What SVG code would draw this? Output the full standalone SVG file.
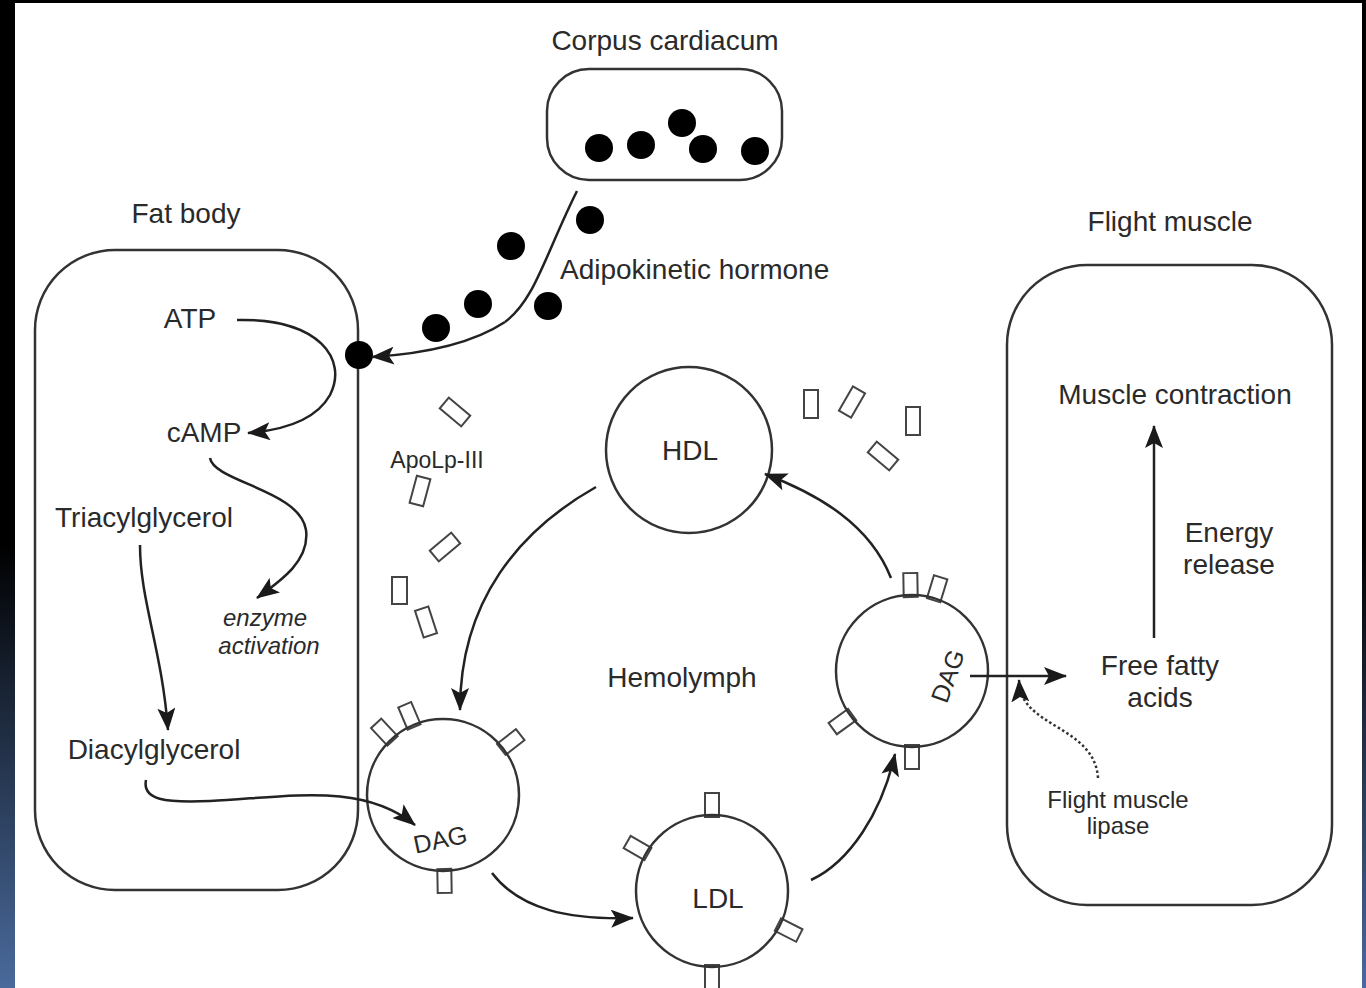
<svg xmlns="http://www.w3.org/2000/svg" width="1366" height="988" viewBox="0 0 1366 988">
<defs>
<linearGradient id="bg" x1="0" y1="0" x2="0" y2="1">
<stop offset="0" stop-color="#000"/>
<stop offset="0.55" stop-color="#000"/>
<stop offset="1" stop-color="#4a6a9c"/>
</linearGradient>
<marker id="ah" markerUnits="userSpaceOnUse" markerWidth="24" markerHeight="18" viewBox="0 0 24 18" refX="22" refY="9" orient="auto">
<path d="M0,0 L23,9 L0,18 L5,9 Z" fill="#1a1a1a"/>
</marker>
<style>
text{font-family:"Liberation Sans",Arial,sans-serif;fill:#2a2a2a;}
.t28{font-size:28px;text-anchor:middle;}
.t24{font-size:24px;text-anchor:middle;}
.it{font-style:italic;}
.ln{fill:none;stroke:#222;stroke-width:2.5;}
.box{fill:none;stroke:#333;stroke-width:2.5;}
.stub{fill:#fff;stroke:#444;stroke-width:2;}
.dot{fill:#000;}
.arr{fill:none;stroke:#222;stroke-width:2.5;marker-end:url(#ah);}
.dash{fill:none;stroke:#333;stroke-width:2.5;stroke-dasharray:2.5 2.5;marker-end:url(#ah);}
</style>
</defs>
<rect x="0" y="0" width="1366" height="988" fill="url(#bg)"/>
<rect x="15" y="3" width="1347" height="985" fill="#fff"/>

<g id="corpus-cardiacum">
<text class="t28" x="665" y="50">Corpus cardiacum</text>
<rect class="box" x="547" y="69" width="235" height="111" rx="42"/>
<circle class="dot" cx="599" cy="148" r="14"/>
<circle class="dot" cx="641" cy="145" r="14"/>
<circle class="dot" cx="682" cy="123" r="14"/>
<circle class="dot" cx="703" cy="149" r="14"/>
<circle class="dot" cx="755" cy="151" r="14"/>
</g>

<g id="akh">
<circle class="dot" cx="590" cy="220" r="14"/>
<circle class="dot" cx="511" cy="246" r="14"/>
<circle class="dot" cx="548" cy="306" r="14"/>
<circle class="dot" cx="478" cy="304" r="14"/>
<circle class="dot" cx="436" cy="328" r="14"/>
<text x="560" y="279" style="font-size:28px">Adipokinetic hormone</text>
</g>

<g id="fat-body">
<text class="t28" x="186" y="223">Fat body</text>
<rect class="box" x="35" y="250" width="323" height="640" rx="80"/>
<circle class="dot" cx="359" cy="355" r="14"/>
<text class="t28" x="190" y="328">ATP</text>
<text class="t28" x="204" y="442">cAMP</text>
<text class="t28" x="144" y="527">Triacylglycerol</text>
<text class="t24 it" x="265" y="626">enzyme</text>
<text class="t24 it" x="269" y="654">activation</text>
<text class="t28" x="154" y="759">Diacylglycerol</text>
</g>

<g id="flight-muscle">
<text class="t28" x="1170" y="231">Flight muscle</text>
<rect class="box" x="1007" y="265" width="325" height="640" rx="80"/>
<text class="t28" x="1175" y="404">Muscle contraction</text>
<text class="t28" x="1229" y="542">Energy</text>
<text class="t28" x="1229" y="574">release</text>
<text class="t28" x="1160" y="675">Free fatty</text>
<text class="t28" x="1160" y="707">acids</text>
<text class="t24" x="1118" y="808">Flight muscle</text>
<text class="t24" x="1118" y="834">lipase</text>
</g>

<g id="apolp-free">
<text class="t24" x="437" y="468" style="font-size:23px">ApoLp-III</text>
<rect class="stub" x="-14" y="-7" width="28" height="14" transform="translate(455,412) rotate(40)"/>
<rect class="stub" x="-7" y="-14" width="14" height="28" transform="translate(420,491) rotate(15)"/>
<rect class="stub" x="-14" y="-7" width="28" height="14" transform="translate(445,547) rotate(-40)"/>
<rect class="stub" x="-7" y="-13" width="15" height="27" transform="translate(399,590)"/>
<rect class="stub" x="-7" y="-14" width="14" height="28" transform="translate(426,622) rotate(-18)"/>
<rect class="stub" x="-7" y="-14" width="14" height="28" transform="translate(811,404)"/>
<rect class="stub" x="-7" y="-14" width="14" height="28" transform="translate(852,402) rotate(30)"/>
<rect class="stub" x="-7" y="-14" width="14" height="28" transform="translate(913,421)"/>
<rect class="stub" x="-14" y="-7" width="28" height="14" transform="translate(883,456) rotate(40)"/>
</g>

<g id="hdl">
<circle class="box" cx="689" cy="450" r="83" fill="#fff"/>
<text class="t28" x="690" y="460">HDL</text>
</g>

<text class="t28" x="682" y="687">Hemolymph</text>

<g id="dag-left">
<g transform="translate(443,795)">
<rect class="stub" x="74" y="-7" width="24" height="14" transform="rotate(-133)"/>
<rect class="stub" x="74" y="-7" width="24" height="14" transform="rotate(-113)"/>
<rect class="stub" x="74" y="-7" width="24" height="14" transform="rotate(-38)"/>
<rect class="stub" x="74" y="-7" width="24" height="14" transform="rotate(89)"/>
<circle class="box" cx="0" cy="0" r="76" fill="#fff"/>
</g>
<text class="t24" x="0" y="0" transform="translate(442,848) rotate(-12)" style="font-size:25px">DAG</text>
</g>

<g id="ldl">
<g transform="translate(712,891)">
<rect class="stub" x="74" y="-7" width="24" height="14" transform="rotate(-90)"/>
<rect class="stub" x="74" y="-7" width="24" height="14" transform="rotate(-150)"/>
<rect class="stub" x="74" y="-7" width="24" height="14" transform="rotate(27)"/>
<rect class="stub" x="74" y="-7" width="24" height="14" transform="rotate(90)"/>
<circle class="box" cx="0" cy="0" r="76" fill="#fff"/>
</g>
<text class="t28" x="718" y="908">LDL</text>
</g>

<g id="dag-right">
<g transform="translate(912,671)">
<rect class="stub" x="74" y="-7" width="24" height="14" transform="rotate(-91)"/>
<rect class="stub" x="74" y="-7" width="24" height="14" transform="rotate(-73)"/>
<rect class="stub" x="74" y="-7" width="24" height="14" transform="rotate(144)"/>
<rect class="stub" x="74" y="-7" width="24" height="14" transform="rotate(90)"/>
<circle class="box" cx="0" cy="0" r="76" fill="#fff"/>
</g>
<text class="t24" x="0" y="0" transform="translate(956,679) rotate(-70)" style="font-size:25px">DAG</text>
</g>

<g id="connectors">
<path class="ln" d="M577,191 C545,255 535,300 505,322" style="stroke-width:2.5"/>
<path class="arr" d="M505,322 C470,345 420,354 372,357"/>
<path class="arr" d="M237,320 C320,318 348,360 330,395 C316,420 285,430 248,433"/>
<path class="arr" d="M210,458 C214,482 300,490 306,530 C310,560 282,580 257,598"/>
<path class="arr" d="M140,545 C140,600 162,650 168,730"/>
<path class="arr" d="M146,780 C142,800 165,803 210,801 C290,797 362,782 415,825"/>
<path class="arr" d="M596,487 C520,530 460,600 460,710"/>
<path class="arr" d="M492,873 C520,910 570,920 633,918"/>
<path class="arr" d="M811,880 C850,862 882,812 895,754"/>
<path class="arr" d="M891,578 C870,525 820,495 765,474"/>
<path class="arr" d="M970,676 L1066,676"/>
<path class="dash" d="M1098,778 C1096,745 1065,733 1043,718 C1026,706 1020,697 1019,680"/>
<path class="arr" d="M1154,638 L1154,426"/>
</g>
</svg>
